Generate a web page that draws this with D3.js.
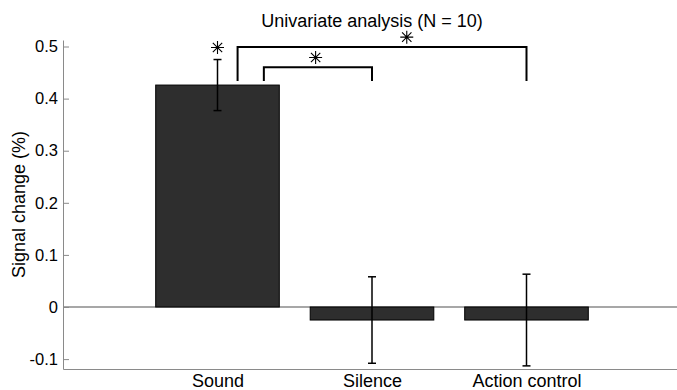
<!DOCTYPE html>
<html>
<head>
<meta charset="utf-8">
<script src="https://cdn.jsdelivr.net/npm/d3@7"></script>
<style>
  body { margin: 0; background: #fff; }
  svg { display: block; font-family: "Liberation Sans", Arial, sans-serif; }
</style>
</head>
<body>
<svg id="chart" width="677" height="390"></svg>
<script>
// values
var categories = ['Sound', 'Silence', 'Action control'];
var means = [0.426, -0.025, -0.025];
var sems = [0.049, 0.083, 0.088];
var yTicks = [-0.1, 0, 0.1, 0.2, 0.3, 0.4, 0.5];
// significance brackets: [x start, x end, top value, foot value]
var brackets = [[1.13, 3, 0.499, 0.434], [1.30, 2, 0.46, 0.434]];
// asterisks: [x, value]
var stars = [[1.0, 0.498], [1.635, 0.479], [2.225, 0.518]];

var svg = d3.select('#chart');
var plotL = 63, plotR = 681, plotT = 40, plotB = 369;

var x = d3.scaleLinear().domain([0, 4]).range([plotL, plotR]);
var y = d3.scaleLinear().domain([-0.119, 0.5125]).range([plotB, plotT]);
var barW = x(0.8) - x(0);

// title
svg.append('text')
  .attr('x', (plotL + plotR) / 2).attr('y', 27)
  .attr('text-anchor', 'middle')
  .style('font-size', '18px')
  .text('Univariate analysis (N = 10)');

// y label
svg.append('text')
  .attr('transform', 'translate(25,' + (plotT + plotB) / 2 + ') rotate(-90)')
  .attr('text-anchor', 'middle')
  .style('font-size', '18px')
  .text('Signal change (%)');

// zero line
svg.append('line')
  .attr('x1', plotL).attr('x2', plotR)
  .attr('y1', y(0)).attr('y2', y(0))
  .attr('stroke', '#8a8a8a').attr('stroke-width', 1.5);

// bars
svg.selectAll('rect.bar')
  .data(means)
  .enter().append('rect')
  .attr('class', 'bar')
  .attr('x', function (d, i) { return x(i + 1) - barW / 2; })
  .attr('width', barW)
  .attr('y', function (d) { return y(Math.max(0, d)); })
  .attr('height', function (d) { return Math.abs(y(d) - y(0)); })
  .attr('fill', '#2e2e2e')
  .attr('stroke', '#000').attr('stroke-width', 1);

// error bars
var eb = svg.selectAll('g.err')
  .data(means)
  .enter().append('g')
  .attr('class', 'err')
  .attr('stroke', '#000').attr('stroke-width', 1.5);
eb.append('line')
  .attr('x1', function (d, i) { return x(i + 1); })
  .attr('x2', function (d, i) { return x(i + 1); })
  .attr('y1', function (d, i) { return y(d + sems[i]); })
  .attr('y2', function (d, i) { return y(d - sems[i]); });
[1, -1].forEach(function (s) {
  eb.append('line')
    .attr('x1', function (d, i) { return x(i + 1) - 4; })
    .attr('x2', function (d, i) { return x(i + 1) + 4; })
    .attr('y1', function (d, i) { return y(d + s * sems[i]); })
    .attr('y2', function (d, i) { return y(d + s * sems[i]); });
});

// axes
var yAxis = d3.axisLeft(y).tickValues(yTicks).tickSizeInner(-6).tickSizeOuter(0).tickPadding(5)
  .tickFormat(function (d) { return d === 0 ? '0' : d3.format('.1f')(d).replace('\u2212', '-'); });
var gy = svg.append('g').attr('transform', 'translate(' + plotL + ',0)').call(yAxis);
gy.selectAll('path, line').attr('stroke', '#8a8a8a');
gy.selectAll('text').style('font-size', '16.5px').attr('fill', '#000')
  .attr('font-family', '"Liberation Sans", Arial, sans-serif');

var xAxis = d3.axisBottom(x).tickValues([1, 2, 3]).tickSize(0).tickPadding(5)
  .tickFormat(function (d) { return categories[d - 1]; });
var gx = svg.append('g').attr('transform', 'translate(0,' + plotB + ')').call(xAxis);
gx.select('path').attr('stroke', '#8a8a8a').attr('stroke-width', 1.2);
gx.selectAll('text').style('font-size', '18px').attr('fill', '#000')
  .attr('font-family', '"Liberation Sans", Arial, sans-serif');

// brackets
svg.selectAll('path.bracket')
  .data(brackets)
  .enter().append('path')
  .attr('class', 'bracket')
  .attr('fill', 'none').attr('stroke', '#000').attr('stroke-width', 2)
  .attr('d', function (b) {
    return 'M' + x(b[0]) + ',' + y(b[3]) + 'V' + y(b[2]) + 'H' + x(b[1]) + 'V' + y(b[3]);
  });

// asterisks
var r = 6.5;
svg.selectAll('path.star')
  .data(stars)
  .enter().append('path')
  .attr('class', 'star')
  .attr('stroke', '#000').attr('stroke-width', 1.1)
  .attr('d', function (s) {
    var cx = x(s[0]), cy = y(s[1]), d = r * 0.72;
    return 'M' + (cx - r) + ',' + cy + 'h' + 2 * r +
      'M' + cx + ',' + (cy - r) + 'v' + 2 * r +
      'M' + (cx - d) + ',' + (cy - d) + 'l' + 2 * d + ',' + 2 * d +
      'M' + (cx - d) + ',' + (cy + d) + 'l' + 2 * d + ',' + (-2 * d);
  });
</script>
</body>
</html>
